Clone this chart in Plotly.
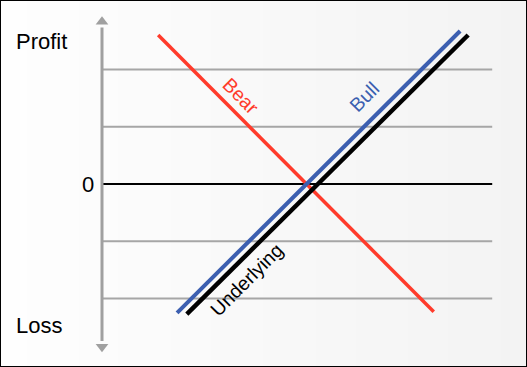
import plotly.graph_objects as go

# ---- data (chart units: 1 unit = one gridline step) ----
bull_x = [-2.32, 2.62]
bull_y = [-2.25, 2.67]
under_x = [-2.15, 2.76]
under_y = [-2.27, 2.60]
bear_x = [-2.65, 2.16]
bear_y = [2.60, -2.23]
grid_levels = [-2, -1, 1, 2]
axis_x = -3.63
axis_x_end = 3.18
axis_y_span = [-2.84, 2.83]
y_labels = ["Profit", "0", "Loss"]

W, H = 527, 367
U = 57.3
X0, Y0 = 310, 184

def px_x(p):
    return (p - X0) / U

def px_y(p):
    return (Y0 - p) / U

fig = go.Figure()

# gridlines
for g in grid_levels:
    fig.add_trace(go.Scatter(x=[axis_x, axis_x_end], y=[g, g], mode="lines",
                             line=dict(color="#a6a6a6", width=2), hoverinfo="skip"))
# zero line
fig.add_trace(go.Scatter(x=[axis_x, axis_x_end], y=[0, 0], mode="lines",
                         line=dict(color="black", width=2), hoverinfo="skip"))
# vertical axis with arrows
fig.add_trace(go.Scatter(x=[axis_x, axis_x], y=[axis_y_span[0] + 0.1, axis_y_span[1] - 0.1], mode="lines",
                         line=dict(color="#a0a0a0", width=3), hoverinfo="skip"))
fig.add_trace(go.Scatter(x=[axis_x, axis_x], y=axis_y_span, mode="markers",
                         marker=dict(symbol=["triangle-down", "triangle-up"], size=11, color="#a0a0a0",
                                     line=dict(width=0)), hoverinfo="skip"))

# lines
fig.add_trace(go.Scatter(x=bear_x, y=bear_y, mode="lines", line=dict(color="#ff3b2b", width=3.5)))
fig.add_trace(go.Scatter(x=under_x, y=under_y, mode="lines", line=dict(color="black", width=4.5)))
fig.add_trace(go.Scatter(x=bull_x, y=bull_y, mode="lines", line=dict(color="#3c5fb0", width=4)))

font = "Liberation Sans, Arial, sans-serif"
ann = [
    dict(x=px_x(14), y=px_y(41), text=y_labels[0], xanchor="left", yanchor="middle",
         font=dict(size=22, color="black", family=font)),
    dict(x=px_x(87.5), y=0, text=y_labels[1], xanchor="center", yanchor="middle",
         font=dict(size=22, color="black", family=font)),
    dict(x=px_x(14), y=px_y(325), text=y_labels[2], xanchor="left", yanchor="middle",
         font=dict(size=22, color="black", family=font)),
    dict(x=px_x(241), y=px_y(96), text="Bear", textangle=45, xanchor="center", yanchor="middle",
         font=dict(size=19.5, color="#ff3b2b", family=font)),
    dict(x=px_x(364), y=px_y(97), text="Bull", textangle=-45, xanchor="center", yanchor="middle",
         font=dict(size=19.5, color="#3c5fb0", family=font)),
    dict(x=px_x(246), y=px_y(280), text="Underlying", textangle=-45, xanchor="center", yanchor="middle",
         font=dict(size=19.5, color="black", family=font)),
]
for a in ann:
    a.update(showarrow=False, xref="x", yref="y")

# background gradient (white -> light gray) + border
shapes = []
N = 40
for i in range(N):
    t = i / (N - 1)
    c = int(round(254 - t * 11))
    shapes.append(dict(type="rect", xref="paper", yref="paper", x0=i / N, x1=(i + 1) / N + 0.002,
                       y0=0, y1=1, fillcolor=f"rgb({c},{c},{c})", line=dict(width=0), layer="below"))
shapes.append(dict(type="rect", xref="paper", yref="paper", x0=0, x1=1, y0=0, y1=1,
                   line=dict(color="black", width=2), fillcolor="rgba(0,0,0,0)", layer="above"))

fig.update_layout(
    width=W, height=H, margin=dict(l=0, r=0, t=0, b=0),
    paper_bgcolor="white", plot_bgcolor="rgba(0,0,0,0)",
    showlegend=False, annotations=ann, shapes=shapes,
    xaxis=dict(range=[px_x(0), px_x(W)], visible=False, fixedrange=True),
    yaxis=dict(range=[px_y(H), px_y(0)], visible=False, fixedrange=True),
)
fig.write_html("out.html", config={"displayModeBar": False})
